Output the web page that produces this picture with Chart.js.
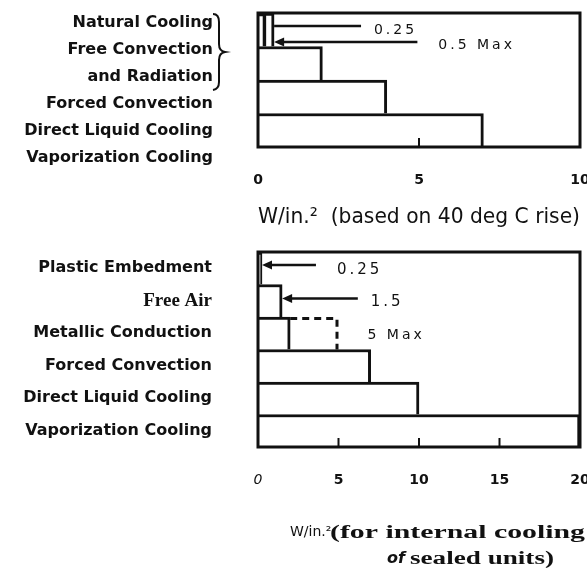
<!DOCTYPE html>
<html>
<head>
<meta charset="utf-8">
<script src="https://cdn.jsdelivr.net/npm/chart.js@4.4.1/dist/chart.umd.min.js"></script>
<style>
  html, body { margin: 0; padding: 0; background: #fff; }
  #wrap { position: relative; width: 587px; height: 572px; overflow: hidden; }
  canvas { position: absolute; left: 0; }
  #top { top: 0; }
  #bottom { top: 250px; }
</style>
</head>
<body>
<div id="wrap">
  <canvas id="top" width="587" height="250"></canvas>
  <canvas id="bottom" width="587" height="322"></canvas>
</div>
<script>
/* ── Data: upper chart ── */
const topRows = ['Natural Cooling', 'Forced Convection', 'Direct Liquid Cooling', 'Vaporization Cooling'];
const topMax = [0.5, 2, 4, 7];
const topMin = [0.25, null, null, null];
const topLabelLines = ['Natural Cooling', 'Free Convection', 'and Radiation', 'Forced Convection', 'Direct Liquid Cooling', 'Vaporization Cooling'];
const topTicks = [0, 5, 10];

/* ── Data: lower chart ── */
const bottomRows = ['Plastic Embedment', 'Free Air', 'Metallic Conduction', 'Forced Convection', 'Direct Liquid Cooling', 'Vaporization Cooling'];
const bottomValues = [0.25, 1.5, 2, 7, 10, 20];
const metallicMax = 5;
const bottomTicks = [0, 5, 10, 15, 20];

const INK = '#111';
Chart.defaults.font.family = '"DejaVu Sans", sans-serif';
Chart.defaults.color = INK;

const barStyle = {
  backgroundColor: '#fff',
  borderColor: INK,
  borderWidth: { top: 3, right: 3, bottom: 0, left: 0 },
  borderSkipped: 'start',
  barPercentage: 1,
  categoryPercentage: 1,
  grouped: false,
};

/* ── helpers ── */
function arrow(ctx, tipX, endX, y, head) {
  ctx.beginPath();
  ctx.lineWidth = 2.5;
  ctx.moveTo(head ? tipX + 8 : tipX, y);
  ctx.lineTo(endX, y);
  ctx.stroke();
  if (head) {
    ctx.beginPath();
    ctx.moveTo(tipX, y);
    ctx.lineTo(tipX + 10, y - 4.5);
    ctx.lineTo(tipX + 10, y + 4.5);
    ctx.closePath();
    ctx.fill();
  }
}

function note(ctx, text, x, y, size = 14, spacing = 3) {
  ctx.font = size + 'px "DejaVu Sans"';
  ctx.letterSpacing = spacing + 'px';
  ctx.textAlign = 'left';
  ctx.textBaseline = 'middle';
  ctx.fillText(text, x, y);
  ctx.letterSpacing = '0px';
}

// text stretched to a given width (the scan is wide)
function fitText(ctx, text, x, y, width) {
  const w = ctx.measureText(text).width;
  ctx.save();
  ctx.translate(x, y);
  ctx.scale(width / w, 1);
  ctx.fillText(text, 0, 0);
  ctx.restore();
}

/* ── Frame + inner tick marks ── */
const framePlugin = {
  id: 'frame',
  afterDatasetsDraw(chart) {
    const { ctx, chartArea: a } = chart;
    const x = chart.scales.x;
    ctx.save();
    ctx.strokeStyle = INK;
    ctx.lineWidth = 3;
    ctx.strokeRect(a.left, a.top, a.right - a.left, a.bottom - a.top);
    ctx.lineWidth = 2;
    x.ticks.forEach(t => {
      if (t.value === x.min || t.value === x.max) return;
      const px = x.getPixelForValue(t.value);
      ctx.beginPath();
      ctx.moveTo(px, a.bottom);
      ctx.lineTo(px, a.bottom - 9);
      ctx.stroke();
    });
    ctx.restore();
  }
};

/* ── Upper chart: side labels, brace, callouts ── */
const topNotesPlugin = {
  id: 'topNotes',
  afterDraw(chart) {
    const { ctx } = chart;
    const x = chart.scales.x, y = chart.scales.y;
    ctx.save();
    ctx.fillStyle = INK;
    ctx.strokeStyle = INK;

    ctx.font = 'bold 16px "DejaVu Sans"';
    ctx.textAlign = 'right';
    ctx.textBaseline = 'middle';
    topLabelLines.forEach((t, i) => ctx.fillText(t, 213, 23 + i * 26.9));

    // brace round the first three lines
    ctx.lineWidth = 2;
    ctx.beginPath();
    ctx.moveTo(213, 14);
    ctx.quadraticCurveTo(219, 14, 219, 22);
    ctx.lineTo(219, 44);
    ctx.quadraticCurveTo(219, 51, 225, 52);
    ctx.quadraticCurveTo(219, 53, 219, 60);
    ctx.lineTo(219, 82);
    ctx.quadraticCurveTo(219, 89, 213, 90);
    ctx.stroke();

    const band = y.getPixelForValue(1) - y.getPixelForValue(0);
    const rowTop = y.getPixelForValue(0) - band / 2;
    arrow(ctx, x.getPixelForValue(topMax[0]), x.getPixelForValue(3.2), rowTop + 13, false);
    arrow(ctx, x.getPixelForValue(topMax[0]), x.getPixelForValue(4.95), rowTop + 29, true);
    note(ctx, '0.25', x.getPixelForValue(3.6), rowTop + 17);
    note(ctx, '0.5 Max', x.getPixelForValue(5.6), rowTop + 32);
    ctx.restore();
  }
};

/* ── Lower chart: callouts, dashed max, two-line title ── */
const bottomNotesPlugin = {
  id: 'bottomNotes',
  afterDraw(chart) {
    const { ctx } = chart;
    const x = chart.scales.x, y = chart.scales.y;
    const band = y.getPixelForValue(1) - y.getPixelForValue(0);
    const rowTop = i => y.getPixelForValue(i) - band / 2;
    ctx.save();
    ctx.fillStyle = INK;
    ctx.strokeStyle = INK;

    arrow(ctx, x.getPixelForValue(bottomValues[0]), x.getPixelForValue(3.6), rowTop(0) + 13, true);
    note(ctx, '0.25', x.getPixelForValue(4.9), rowTop(0) + 18, 15);
    arrow(ctx, x.getPixelForValue(bottomValues[1]), x.getPixelForValue(6.2), rowTop(1) + 14, true);
    note(ctx, '1.5', x.getPixelForValue(7.0), rowTop(1) + 18, 15);

    // dashed outline up to the metallic conduction maximum
    const m = 2;
    const x0 = x.getPixelForValue(bottomValues[m]);
    const x1 = x.getPixelForValue(metallicMax);
    ctx.lineWidth = 3;
    ctx.setLineDash([7, 5]);
    ctx.beginPath();
    ctx.moveTo(x0, rowTop(m) + 1.5);
    ctx.lineTo(x1 - 1.5, rowTop(m) + 1.5);
    ctx.lineTo(x1 - 1.5, rowTop(m) + band);
    ctx.stroke();
    ctx.setLineDash([]);
    note(ctx, '5 Max', x.getPixelForValue(6.8), rowTop(m) + 18, 14);

    // axis title
    ctx.textAlign = 'left';
    ctx.textBaseline = 'middle';
    ctx.font = '14px "DejaVu Sans"';
    ctx.fillText('W/in.²', 290, 282);
    ctx.font = 'bold 18px "Liberation Serif"';
    fitText(ctx, '(for internal cooling', 330, 283, 255);
    ctx.font = 'italic bold 16px "DejaVu Sans"';
    ctx.fillText('of', 387, 309);
    ctx.font = 'bold 18px "Liberation Serif"';
    fitText(ctx, 'sealed units)', 410, 309, 144);
    ctx.restore();
  }
};

/* ── Upper chart ── */
new Chart(document.getElementById('top'), {
  type: 'bar',
  data: {
    labels: topRows,
    datasets: [
      { ...barStyle, data: topMin, backgroundColor: 'rgba(0,0,0,0)' },
      { ...barStyle, data: topMax },
    ]
  },
  options: {
    indexAxis: 'y',
    responsive: false,
    animation: false,
    layout: { padding: { left: 258, right: 7, top: 13, bottom: 0 } },
    plugins: { legend: { display: false }, tooltip: { enabled: false } },
    scales: {
      y: { display: false },
      x: {
        min: topTicks[0],
        max: topTicks[topTicks.length - 1],
        afterBuildTicks: s => { s.ticks = topTicks.map(v => ({ value: v })); },
        afterFit: s => { s.height = 103; s.paddingLeft = 0; s.paddingRight = 0; },
        grid: { display: false },
        border: { display: false },
        ticks: { padding: 17, font: { size: 14, weight: 'bold' } },
        title: {
          display: true,
          text: 'W/in.²  (based on 40 deg C rise)',
          font: { size: 21 },
          padding: { top: 0, bottom: 20 }
        }
      }
    }
  },
  plugins: [framePlugin, topNotesPlugin]
});

/* ── Lower chart ── */
new Chart(document.getElementById('bottom'), {
  type: 'bar',
  data: {
    labels: bottomRows,
    datasets: [{ ...barStyle, data: bottomValues }]
  },
  options: {
    indexAxis: 'y',
    responsive: false,
    animation: false,
    layout: { padding: { left: 0, right: 7, top: 2, bottom: 0 } },
    plugins: { legend: { display: false }, tooltip: { enabled: false } },
    scales: {
      y: {
        afterFit: s => { s.width = 258; s.paddingTop = 0; s.paddingBottom = 0; },
        grid: { display: false },
        border: { display: false },
        ticks: {
          padding: 38,
          font: c => c.index === 1
            ? { family: '"Liberation Serif"', size: 19, weight: 'bold' }
            : { size: 16, weight: 'bold' }
        }
      },
      x: {
        min: bottomTicks[0],
        max: bottomTicks[bottomTicks.length - 1],
        afterBuildTicks: s => { s.ticks = bottomTicks.map(v => ({ value: v })); },
        afterFit: s => { s.height = 125; s.paddingLeft = 0; s.paddingRight = 0; },
        grid: { display: false },
        border: { display: false },
        ticks: {
          padding: 17,
          font: c => c.tick && c.tick.value === 0
            ? { size: 14, style: 'italic' }
            : { size: 14, weight: 'bold' }
        }
      }
    }
  },
  plugins: [framePlugin, bottomNotesPlugin]
});
</script>
</body>
</html>
